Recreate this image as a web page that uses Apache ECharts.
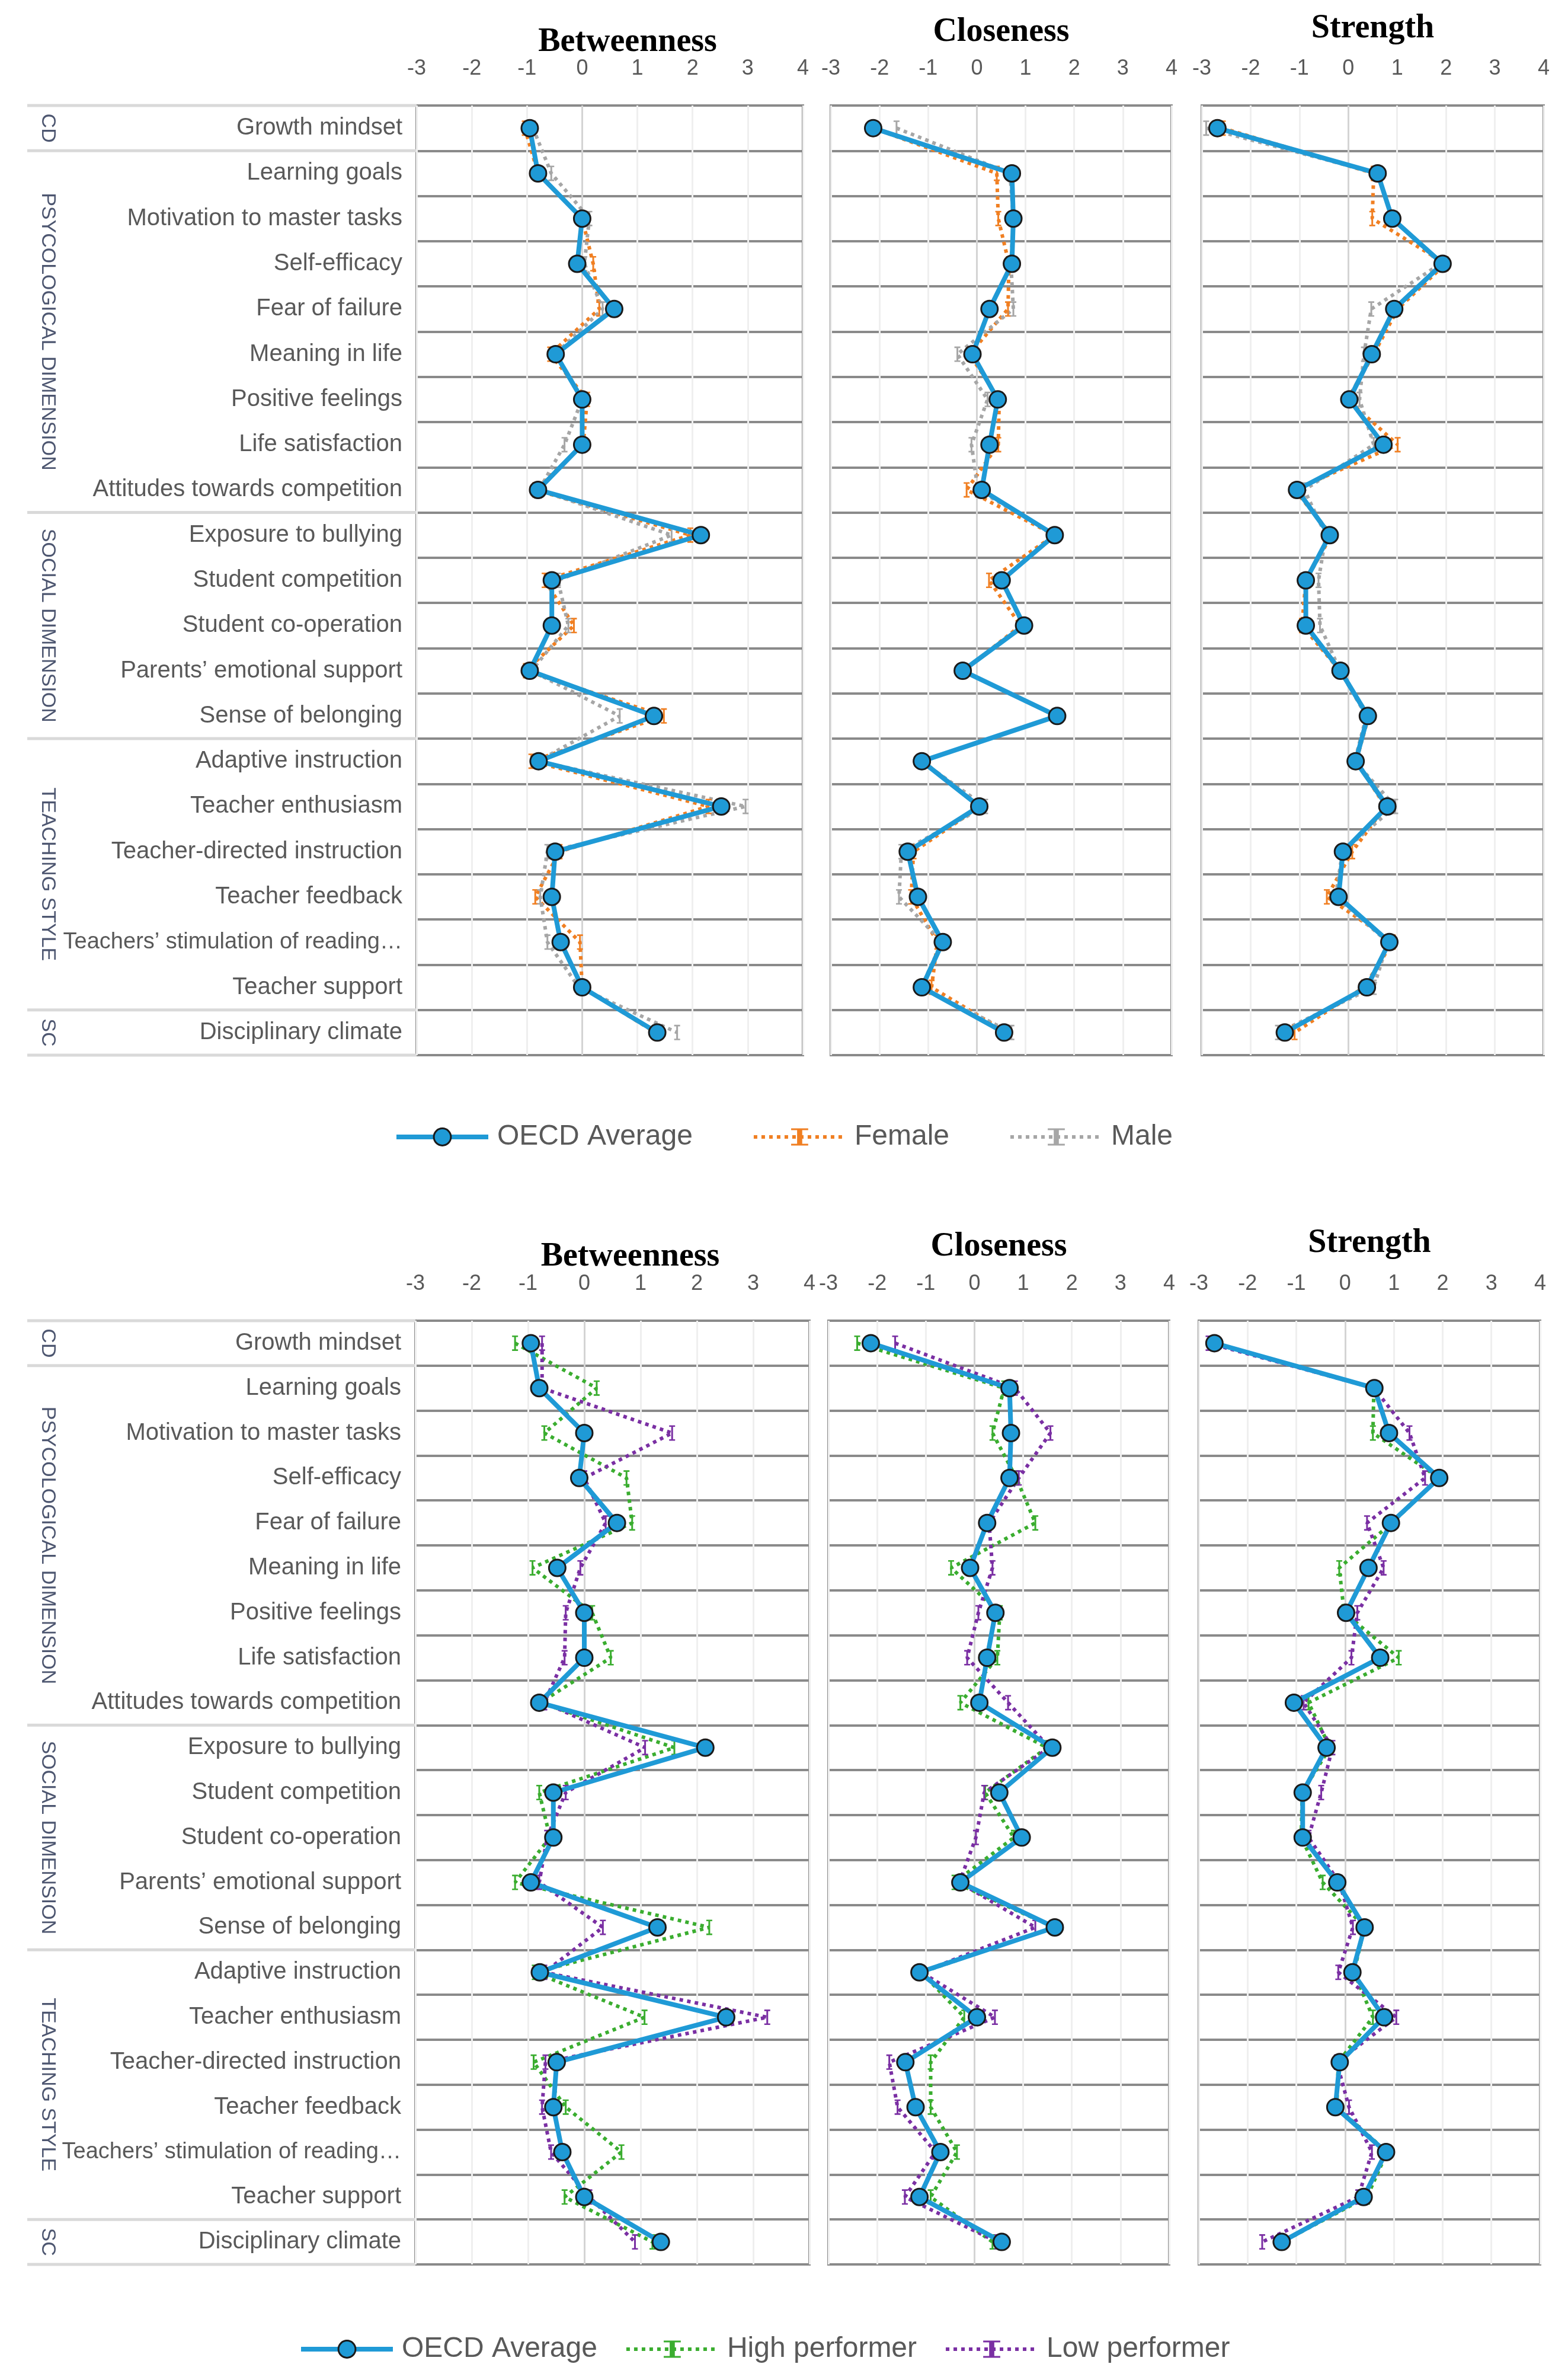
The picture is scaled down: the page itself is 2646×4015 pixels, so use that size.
<!DOCTYPE html>
<html>
<head>
<meta charset="utf-8">
<script src="https://cdn.jsdelivr.net/npm/echarts/dist/echarts.min.js"></script>
<style>
  html, body { margin: 0; padding: 0; background: #fff; }
  #main { width: 2646px; height: 4015px; }
</style>
</head>
<body>
<div id="main"></div>
<script>
const categories = [
  'Growth mindset',
  'Learning goals',
  'Motivation to master tasks',
  'Self-efficacy',
  'Fear of failure',
  'Meaning in life',
  'Positive feelings',
  'Life satisfaction',
  'Attitudes towards competition',
  'Exposure to bullying',
  'Student competition',
  'Student co-operation',
  'Parents’ emotional support',
  'Sense of belonging',
  'Adaptive instruction',
  'Teacher enthusiasm',
  'Teacher-directed instruction',
  'Teacher feedback',
  'Teachers’ stimulation of reading…',
  'Teacher support',
  'Disciplinary climate'
]
const groupNames = ['CD', 'PSYCOLOGICAL DIMENSION', 'SOCIAL DIMENSION', 'TEACHING STYLE', 'SC']
const groupSizes = [1, 8, 5, 6, 1]
const panelTitles = ['Betweenness', 'Closeness', 'Strength']

// OECD average (same in both charts)
const betweennessOECD = [-0.95, -0.80, 0.0, -0.09, 0.58, -0.48, 0.0, 0.0, -0.80, 2.15, -0.55, -0.55, -0.95, 1.30, -0.79, 2.52, -0.49, -0.55, -0.39, 0.0, 1.36]
const closenessOECD = [-2.13, 0.72, 0.75, 0.72, 0.26, -0.09, 0.43, 0.26, 0.10, 1.60, 0.51, 0.97, -0.29, 1.65, -1.13, 0.05, -1.42, -1.21, -0.70, -1.13, 0.56]
const strengthOECD = [-2.68, 0.60, 0.90, 1.93, 0.94, 0.48, 0.02, 0.72, -1.05, -0.38, -0.87, -0.87, -0.16, 0.40, 0.15, 0.80, -0.11, -0.20, 0.84, 0.38, -1.30]

// gender
const betweennessFemale = [-1.04, -0.80, 0.0, 0.20, 0.31, -0.58, 0.09, 0.02, -0.85, 1.96, -0.68, -0.15, -1.02, 1.48, -0.92, 2.29, -0.41, -0.85, -0.04, 0.0, 1.33]
const betweennessMale = [-0.89, -0.56, 0.13, 0.04, 0.37, -0.49, 0.0, -0.32, -0.78, 1.62, -0.44, -0.25, -0.92, 0.68, -0.80, 2.96, -0.63, -0.76, -0.63, -0.06, 1.72]
const closenessFemale = [-2.12, 0.41, 0.44, 0.66, 0.64, -0.15, 0.46, 0.44, -0.21, 1.60, 0.25, 0.90, -0.27, 1.62, -1.11, 0.07, -1.30, -1.35, -0.81, -0.93, 0.61]
const closenessMale = [-1.65, 0.68, 0.75, 0.70, 0.75, -0.40, 0.22, -0.11, 0.02, 1.62, 0.50, 0.95, -0.30, 1.65, -1.14, 0.17, -1.55, -1.60, -0.72, -1.14, 0.71]
const strengthFemale = [-2.57, 0.52, 0.49, 1.99, 1.01, 0.52, -0.02, 1.01, -1.10, -0.34, -0.87, -0.95, -0.17, 0.42, 0.16, 0.76, 0.08, -0.44, 0.91, 0.32, -1.10]
const strengthMale = [-2.91, 0.60, 0.91, 1.89, 0.47, 0.32, 0.23, 0.52, -0.90, -0.46, -0.61, -0.58, -0.17, 0.37, 0.13, 0.96, -0.12, -0.26, 0.81, 0.52, -1.44]

// performance
const betweennessHigh = [-1.23, 0.22, -0.71, 0.75, 0.85, -0.92, 0.14, 0.47, -0.78, 1.60, -0.80, -0.61, -1.23, 2.22, -0.88, 1.07, -0.90, -0.33, 0.66, -0.35, 1.21]
const betweennessLow = [-0.75, -0.75, 1.56, 0.0, 0.38, -0.07, -0.33, -0.35, -0.71, 1.08, -0.33, -0.66, -0.80, 0.33, -0.71, 3.25, -0.69, -0.75, -0.59, 0.09, 0.90]
const closenessHigh = [-2.41, 0.61, 0.37, 0.86, 1.25, -0.48, 0.52, 0.47, -0.29, 1.49, 0.22, 0.81, -0.41, 1.64, -1.09, -0.21, -0.90, -0.90, -0.36, -0.90, 0.37]
const closenessLow = [-1.63, 0.83, 1.56, 0.91, 0.30, 0.37, 0.08, -0.15, 0.69, 1.54, 0.20, 0.03, -0.31, 1.25, -1.09, 0.42, -1.75, -1.58, -0.80, -1.43, 0.47]
const strengthHigh = [-2.70, 0.59, 0.57, 1.93, 0.96, -0.12, -0.02, 1.10, -0.75, -0.31, -0.88, -0.90, -0.46, 0.40, 0.18, 0.57, -0.14, -0.17, 0.86, 0.45, -1.29]
const strengthLow = [-2.80, 0.59, 1.32, 1.64, 0.45, 0.79, 0.25, 0.13, -0.85, -0.26, -0.49, -0.75, -0.12, 0.16, -0.14, 1.05, -0.17, 0.08, 0.55, 0.27, -1.70]

const FONT = "'Liberation Sans', sans-serif"
const TEXT = '#595959'
const ROWLINE = '#8a8a8a'
const BLUE = '#1f9ad6'
const IBEAM = 'path://M0,0H10V3H6.5V27H10V30H0V27H3.5V3H0Z'

const chart = echarts.init(document.getElementById('main'), null, { renderer: 'canvas' })

const grids = []
const xAxes = []
const yAxes = []
const series = []
const graphics = []

function toPairs(values) {
  return values.map((v, i) => [v, categories[i]])
}

function addPanel(rect, title, titleY, oecd, extras, showLabels) {
  const i = grids.length
  grids.push({
    left: rect.left, top: rect.top, width: rect.width, height: rect.height,
    show: true, borderColor: ROWLINE, borderWidth: 4, backgroundColor: '#fff'
  })
  xAxes.push({
    gridIndex: i, type: 'value', position: 'top',
    min: -3, max: 4, interval: 1,
    axisLine: { show: false }, axisTick: { show: false },
    axisLabel: { margin: 44, fontSize: 36, color: TEXT, fontFamily: FONT },
    splitLine: {
      show: true,
      lineStyle: { width: 3, color: ['#efefef', '#efefef', '#efefef', '#d4d4d4', '#efefef', '#efefef', '#efefef', '#efefef'] }
    }
  })
  yAxes.push({
    gridIndex: i, type: 'category', inverse: true, data: categories,
    axisLine: { show: false }, axisTick: { show: false },
    axisLabel: {
      show: showLabels, interval: 0, margin: 24, fontSize: 40, color: TEXT, fontFamily: FONT,
      formatter: v => v.length > 30 ? '{s|' + v + '}' : v,
      rich: { s: { fontSize: 38, color: TEXT, fontFamily: FONT } }
    },
    splitLine: { show: true, interval: 0, lineStyle: { color: ROWLINE, width: 4 } }
  })
  extras.forEach(e => {
    series.push({
      name: e.name, type: 'line', xAxisIndex: i, yAxisIndex: i,
      data: toPairs(e.data),
      symbol: IBEAM, symbolSize: [10, 26],
      lineStyle: { color: e.color, width: 6, type: [6, 7] },
      itemStyle: { color: e.color },
      z: 2
    })
  })
  series.push({
    name: 'OECD Average', type: 'line', xAxisIndex: i, yAxisIndex: i,
    data: toPairs(oecd),
    symbol: 'circle', symbolSize: 28,
    lineStyle: { color: BLUE, width: 8 },
    itemStyle: { color: BLUE, borderColor: '#1a1a1a', borderWidth: 3 },
    z: 3
  })
  graphics.push({
    type: 'text', x: rect.left + rect.width / 2 + (i % 3 === 0 ? 30 : 0), y: titleY,
    style: {
      text: title, fill: '#000', font: "bold 56px 'Liberation Serif', serif",
      textAlign: 'center', textVerticalAlign: 'middle'
    }
  })
}

function addGroups(top, height) {
  const rowH = height / categories.length
  let start = 0
  const lineAt = y => graphics.push({
    type: 'line', shape: { x1: 46, y1: y, x2: 703, y2: y },
    style: { stroke: '#d9d9d9', lineWidth: 5 }
  })
  lineAt(top)
  groupNames.forEach((g, k) => {
    const n = groupSizes[k]
    graphics.push({
      type: 'text', x: 80, y: top + (start + n / 2) * rowH, rotation: -Math.PI / 2,
      style: {
        text: g, fill: '#4d5670', font: "34px 'Liberation Sans', sans-serif",
        textAlign: 'center', textVerticalAlign: 'middle'
      }
    })
    start += n
    lineAt(top + start * rowH)
  })
}

// upper chart: by gender
const genderSets = [
  [betweennessOECD, betweennessFemale, betweennessMale],
  [closenessOECD, closenessFemale, closenessMale],
  [strengthOECD, strengthFemale, strengthMale]
]
const topRects = [
  { left: 703, width: 652, top: 178, height: 1602 },
  { left: 1402, width: 575, top: 178, height: 1602 },
  { left: 2028, width: 577, top: 178, height: 1602 }
]
const topTitleY = [72, 55, 49]
topRects.forEach((r, k) => {
  const [o, f, m] = genderSets[k]
  addPanel(r, panelTitles[k], topTitleY[k], o, [
    { name: 'Female', data: f, color: '#f07f22' },
    { name: 'Male', data: m, color: '#a6a6a6' }
  ], k === 0)
})
addGroups(178, 1602)

// lower chart: by performance
const perfSets = [
  [betweennessOECD, betweennessHigh, betweennessLow],
  [closenessOECD, closenessHigh, closenessLow],
  [strengthOECD, strengthHigh, strengthLow]
]
const bottomRects = [
  { left: 701, width: 665, top: 2228, height: 1592 },
  { left: 1398, width: 575, top: 2228, height: 1592 },
  { left: 2023, width: 576, top: 2228, height: 1592 }
]
const bottomTitleY = [2121, 2104, 2098]
bottomRects.forEach((r, k) => {
  const [o, h, l] = perfSets[k]
  addPanel(r, panelTitles[k], bottomTitleY[k], o, [
    { name: 'High performer', data: h, color: '#3aad2f' },
    { name: 'Low performer', data: l, color: '#7a2fa3' }
  ], k === 0)
})
addGroups(2228, 1592)

const legendBase = {
  orient: 'horizontal', itemWidth: 155, itemHeight: 36,
  textStyle: { fontSize: 48, color: TEXT, fontFamily: FONT, padding: [0, 0, 0, 10] },
  lineStyle: { width: 'inherit', type: 'inherit' },
  itemStyle: { borderWidth: 'inherit', borderColor: 'inherit' },
  selectedMode: false
}

chart.setOption({
  backgroundColor: '#fff',
  animation: false,
  grid: grids,
  xAxis: xAxes,
  yAxis: yAxes,
  series: series,
  legend: [
    Object.assign({}, legendBase, { left: 660, top: 1889, itemGap: 100, data: ['OECD Average', 'Female', 'Male'] }),
    Object.assign({}, legendBase, { left: 499, top: 3934, itemGap: 46, data: ['OECD Average', 'High performer', 'Low performer'] })
  ],
  graphic: graphics
})
</script>
</body>
</html>
